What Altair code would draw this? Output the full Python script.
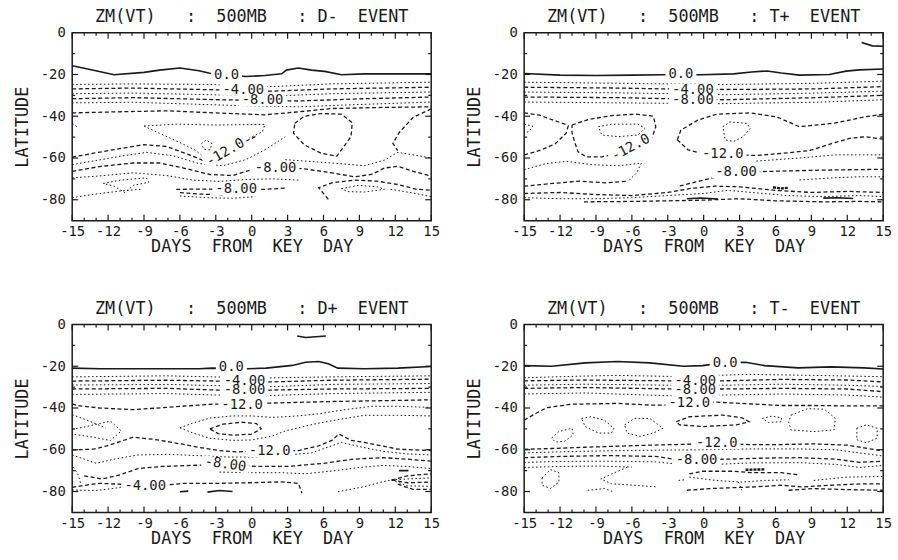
import altair as alt
import pandas as pd

# ---------------- layout / style constants ----------------
W, H = 363, 190
FONT = "DejaVu Sans Mono"
INK = "#1a1a1a"
NB = "\u00a0"

# ---------------- axis ticks / labels ----------------
DAY_MAJOR = [-15, -12, -9, -6, -3, 0, 3, 6, 9, 12, 15]
DAY_MINOR = [-14, -13, -11, -10, -8, -7, -5, -4, -2, -1, 1, 2, 4, 5, 7, 8, 10, 11, 13, 14]
LAT_LABELS = [0, -20, -40, -60, -80]
LAT_MAJOR = [-20, -40, -60, -80]
LAT_MINOR = [-10, -30, -50, -70]

EVENTS = ["D-", "T+", "D+", "T-"]
X_TITLE = "DAYS  FROM  KEY  DAY"
Y_TITLE = "LATITUDE"

# ---------------- contour data (day, latitude) ----------------
D_MINUS = [
    ("solid", [(-15, -15.8), (-13.7, -17.4), (-11.5, -20.1), (-9.0, -19.0), (-7.7, -17.9), (-6.0, -16.9), (-4.4, -18.2), (-3.5, -19.4), (-0.5, -21.0), (1.1, -20.5), (2.5, -19.7), (2.9, -17.9), (3.9, -16.9), (5.0, -17.9), (6.1, -18.5), (7.5, -20.1), (9.4, -19.7), (15, -19.7)]),
    ("dot", [(-15, -24.8), (-9.9, -24.5), (-3.3, -24.8), (1.7, -25.8), (6.7, -24.5), (15, -23.7)]),
    ("dash", [(-15, -26.9), (-9.9, -26.5), (-3.3, -27.3), (1.7, -28.0), (6.7, -26.9), (15, -26.1)]),
    ("dot", [(-15, -29.2), (-9.9, -28.9), (-3.3, -29.7), (1.1, -30.5), (6.7, -29.2), (15, -28.4)]),
    ("dash", [(-15, -31.6), (-9.9, -31.1), (-2.7, -32.1), (3.9, -32.7), (9.4, -31.6), (15, -30.8)]),
    ("dot", [(-15, -33.6), (-9.9, -33.3), (-1.6, -34.8), (3.9, -35.5), (9.4, -34.3), (15, -33.2)]),
    ("dash", [(-15, -38.4), (-11.3, -37.9), (-7.1, -37.4), (-3.0, -38.4), (1.1, -39.3), (3.9, -37.9), (6.7, -36.3), (10.8, -35.8), (15, -35.5)]),
    ("dash", [(3.6, -43.4), (4.4, -40.0), (5.8, -38.7), (7.5, -39.0), (8.4, -43.1), (8.3, -49.8), (7.6, -55.3), (7.1, -59.2), (5.8, -57.7), (4.4, -53.7), (3.5, -48.2), (3.6, -43.4)]),
    ("dash", [(15, -36.5), (13.5, -40.5), (12.3, -48.0), (11.8, -53.0), (12.2, -56.5)]),
    ("dot", [(-9.0, -44.7), (-6.3, -43.8), (-3.0, -44.2), (1.1, -43.9), (0.9, -47.4), (-0.2, -50.5)]),
    ("dot", [(-9.0, -44.7), (-7.7, -48.2), (-6.0, -52.6), (-4.8, -56.0), (-4.2, -58.5)]),
    ("dot", [(-4.2, -53.2), (-3.8, -51.3), (-3.3, -53.2), (-3.5, -56.1), (-4.0, -55.8), (-4.2, -53.2)]),
    ("dash", [(-15, -59.6), (-13.2, -57.7), (-11.3, -55.8), (-9.0, -53.6), (-7.1, -54.5), (-5.2, -58.5), (-3.8, -61.8), (-2.2, -57.3), (-0.6, -52.3), (0.4, -49.5)]),
    ("dot", [(-15, -63.2), (-12.6, -60.8), (-11.0, -59.2), (-8.8, -57.3), (-6.6, -58.9), (-4.4, -62.7), (-2.4, -63.7), (-0.5, -60.8), (1.1, -56.1), (2.2, -52.1), (2.8, -49.8)]),
    ("dot", [(2.8, -60.8), (6.7, -62.4), (9.4, -63.7), (11.1, -61.0), (12.2, -57.3), (13.5, -58.5), (15, -60.0)]),
    ("dash", [(-15, -66.4), (-12.6, -64.0), (-9.9, -62.4), (-7.7, -62.4), (-5.7, -64.8), (-3.5, -67.9), (-1.6, -68.4), (0, -65.6), (2.2, -64.3), (4.4, -65.2), (6.7, -67.1), (8.6, -69.0), (10.0, -67.9), (11.1, -64.8), (12.2, -64.0), (13.5, -66.4), (15, -68.7)]),
    ("dot", [(-15, -69.5), (-12.9, -68.7), (-9.9, -67.1), (-7.1, -68.4), (-4.9, -70.6), (-2.7, -71.2), (-0.5, -70.3), (1.7, -70.0), (3.9, -70.6)]),
    ("dash", [(-6.3, -75.0), (-3.8, -74.9), (-1.3, -75.0), (1.1, -75.0), (2.9, -74.4)]),
    ("dash", [(-6.0, -76.6), (-4.4, -77.3), (-2.4, -77.6)]),
    ("dot", [(-6.0, -78.2), (-3.8, -79.0), (-1.6, -79.3), (0.3, -78.5)]),
    ("dot", [(-12.4, -72.2), (-11.0, -70.6), (-8.8, -69.5), (-8.6, -71.6), (-9.9, -73.1), (-10.6, -76.6), (-11.5, -73.5), (-12.4, -72.2)]),
    ("dot", [(-15, -79.0), (-13.2, -77.4), (-11.0, -75.8), (-9.3, -75.0)]),
    ("dash", [(6.4, -79.8), (5.6, -74.2), (6.7, -71.9), (8.6, -70.6), (10.5, -71.1), (12.2, -72.7), (13.8, -75.0), (15, -75.4)]),
    ("dot", [(7.5, -74.7), (8.9, -73.1), (10.5, -73.8), (11.1, -75.0), (9.4, -76.3), (8.0, -76.1), (7.5, -74.7)]),
    ("dot", [(11.6, -75.0), (13.3, -76.6), (15, -78.5)]),
    ("dot", [(-15, -43.4), (-14.6, -45.0)]),
]
D_MINUS_LABELS = [("0.0", -2.1, -20.5, 0), ("-4.00", -0.7, -27.3, 0), ("-8.00", 0.9, -32.4, 0),
                  ("-12.0", -2.2, -57.3, 330), ("-8.00", 2.0, -64.6, 0), ("-8.00", -1.3, -75.0, 0)]

T_PLUS = [
    ("solid", [(-15, -19.5), (-12, -20.3), (-9, -20.5), (-6, -20.3), (-3.5, -20.1), (-0.2, -20.1), (2.5, -19.7), (4, -18.8), (5.3, -18.3), (6.5, -19.3), (8, -20.3), (10.5, -20.0), (11.9, -18.4), (13, -17.8), (15, -17.4)]),
    ("solid", [(13.2, -4.7), (14.1, -6.3), (15, -6.5)]),
    ("dot", [(-15, -23.7), (-7.1, -24.2), (-3.3, -24.5), (1.7, -24.8), (9.4, -24.2), (15, -23.2)]),
    ("dash", [(-15, -26.1), (-7.1, -26.5), (-3.3, -26.9), (1.7, -27.2), (9.4, -26.9), (15, -25.8)]),
    ("dot", [(-15, -28.4), (-7.1, -28.8), (-3.0, -29.2), (1.7, -29.7), (9.4, -28.9), (15, -28.0)]),
    ("dash", [(-15, -30.8), (-7.1, -31.1), (-3.0, -31.6), (1.7, -32.1), (9.4, -31.1), (15, -30.0)]),
    ("dot", [(-15, -33.2), (-7.1, -33.6), (1.1, -34.0), (9.4, -33.3), (15, -32.1)]),
    ("dash", [(-15, -38.4), (-13.7, -39.5), (-12.4, -42.2), (-11.3, -44.4)]),
    ("dash", [(-15, -58.5), (-13.7, -56.4), (-12.4, -53.2), (-11.5, -48.2), (-11.3, -44.4)]),
    ("dash", [(-11.0, -44.2), (-9.6, -41.5), (-7.7, -39.7), (-5.7, -39.0), (-4.2, -40.0), (-4.0, -45.0), (-4.3, -50.0), (-5.0, -52.5), (-6.1, -55.0), (-7.3, -57.8), (-8.5, -59.5), (-9.8, -59.5), (-10.5, -57.0), (-10.8, -52.0), (-11.0, -48.0), (-11.0, -44.2)]),
    ("dot", [(-8.8, -45.0), (-7.7, -43.8), (-5.5, -43.8), (-4.9, -45.8), (-5.5, -49.0), (-7.1, -49.8), (-8.5, -49.0), (-8.8, -45.0)]),
    ("dot", [(-15, -43.8), (-14.3, -44.7), (-14.6, -47.4), (-15, -47.9)]),
    ("dash", [(-2.2, -51.3), (-1.9, -46.6), (-0.5, -41.9), (1.1, -39.0), (3.9, -38.4), (6.1, -40.3), (8.0, -45.0), (10.8, -43.4), (13.5, -40.3), (15, -39.0)]),
    ("dash", [(-2.2, -51.3), (-1.3, -56.1), (0.0, -58.0), (1.6, -58.2), (4.4, -58.8), (6.7, -57.7), (8.9, -56.4), (10.8, -52.9), (12.2, -50.6), (13.5, -49.8), (15, -51.0)]),
    ("dot", [(1.6, -45.0), (2.2, -42.7), (3.6, -43.4), (3.9, -45.8), (3.3, -49.8), (2.5, -52.1), (1.8, -51.3), (1.6, -45.0)]),
    ("dot", [(-15, -65.6), (-13.2, -62.7), (-11.5, -61.6), (-9.3, -63.2), (-7.1, -63.7), (-5.2, -62.4), (-5.6, -67.1), (-6.3, -71.1)]),
    ("dash", [(-15, -73.5), (-12.6, -72.2), (-10.4, -71.1), (-8.2, -71.9), (-6.3, -71.1)]),
    ("dash", [(-2.0, -73.4), (-0.3, -71.0), (2.7, -66.8), (6.3, -66.3), (10, -65.8), (15, -65.4)]),
    ("dot", [(4.4, -61.5), (8.0, -60.0), (11, -58.5), (15, -58.5)]),
    ("dot", [(8.0, -70.5), (10.8, -69.5), (13.0, -69.0), (15, -69.0)]),
    ("dash", [(-15, -77.0), (-12, -76.5), (-9, -77.5), (-6, -78), (-3, -76.5), (-1, -74.5), (1, -73.5), (3, -73.8), (6, -75.5), (9, -76.5), (12, -76), (15, -76.5)]),
    ("dot", [(-15, -79), (-12, -79.5), (-9, -79.5), (-6, -79), (-3, -78), (0, -77), (2, -75.5), (4, -76.5), (7, -78), (10, -78.5), (13, -78), (15, -78.5)]),
    ("dash", [(-10, -81), (-6, -80.8), (-3, -80.5), (0, -80.2), (3, -79.5), (6, -80.5), (10, -81), (13, -80.8), (15, -81)]),
    ("solid", [(-1.4, -79.5), (-0.2, -79.2), (1.2, -79.6)]),
    ("solid", [(10.0, -79.2), (11.2, -79.0), (12.5, -79.4)]),
    ("heavy", [(5.8, -74), (6.4, -74.6), (7.1, -74.3)]),
]
T_PLUS_LABELS = [("0.0", -1.9, -19.8, 0), ("-4.00", -0.9, -27.3, 0), ("-8.00", -0.9, -32.2, 0),
                 ("-12.0", -6.1, -55.0, 332), ("-12.0", 1.6, -58.2, 0), ("-8.00", 2.7, -66.8, 0)]

D_PLUS = [
    ("solid", [(-15, -20.9), (-12.7, -21.2), (-8.5, -21.2), (-4.4, -21.2), (-3.3, -20.9), (-0.4, -21.2), (1.2, -20.9), (3.4, -19.6), (4.5, -18.1), (5.6, -17.7), (6.4, -18.8), (7.2, -20.9), (9.4, -21.2), (12.2, -20.9), (15, -20.1)]),
    ("solid", [(3.8, -5.5), (4.5, -6.2), (6.2, -5.5)]),
    ("dot", [(-15, -25.1), (-7.1, -24.6), (-3.3, -25.1), (1.2, -25.6), (6.7, -25.1), (15, -24.6)]),
    ("dash", [(-15, -27.1), (-7.1, -26.7), (-3.0, -27.1), (1.7, -27.5), (6.7, -26.7), (15, -26.2)]),
    ("dot", [(-15, -29.0), (-7.1, -28.7), (-3.0, -29.3), (1.7, -29.8), (6.7, -28.7), (15, -28.3)]),
    ("dash", [(-15, -30.9), (-7.1, -30.6), (-3.0, -31.4), (1.7, -31.4), (6.7, -30.9), (15, -30.6)]),
    ("dot", [(-15, -33.5), (-7.1, -33.1), (-3.0, -33.8), (1.1, -34.1), (6.7, -33.1), (15, -32.5)]),
    ("dash", [(-15, -38.0), (-14.6, -38.8), (-12.7, -40.0), (-9.9, -40.8), (-7.1, -39.7), (-4.9, -38.8), (-3.0, -38.1), (-0.8, -38.3), (1.2, -37.7), (6.7, -36.9), (15, -36.1)]),
    ("dot", [(-15, -43.2), (-13.9, -45.5), (-12.9, -47.9), (-12.2, -49.5)]),
    ("dot", [(-15, -50.3), (-13.5, -48.5), (-11.8, -46.3), (-10.9, -51.0), (-11.8, -55.6), (-13.2, -54.0), (-15, -52.5)]),
    ("dot", [(-6.0, -49.5), (-4.9, -47.2), (-3.5, -44.8), (-1.6, -43.8), (0, -43.8), (1.7, -44.5), (3.4, -44.0), (5.6, -42.8), (7.8, -40.8), (10.0, -39.2), (12.2, -39.2), (15, -39.7)]),
    ("dash", [(-3.5, -50.0), (-2.4, -47.7), (-0.8, -46.8), (0.4, -47.5), (0.8, -50.0), (0, -52.5), (-1.5, -53.0), (-2.8, -52.3), (-3.5, -50.0)]),
    ("dot", [(-6.0, -49.5), (-4.9, -52.0), (-3.5, -54.5), (-1.6, -55.5), (0, -55.3), (1.7, -53.5), (2.8, -51.0), (3.9, -49.5), (5.3, -47.6), (7.2, -45.6), (9.4, -43.5), (12.2, -43.5), (15, -43.8)]),
    ("dash", [(-15, -60.1), (-13.2, -59.7), (-12.1, -58.1), (-9.9, -54.0), (-8.2, -55.0), (-6.6, -56.5), (-4.4, -58.9), (-2.7, -60.4), (-1.3, -61.0), (1.5, -60.7), (3.9, -60.4), (5.6, -58.1), (6.7, -55.5), (7.3, -52.5), (8.3, -55.5), (9.4, -56.5), (10.8, -58.1), (12.2, -59.7), (15, -60.4)]),
    ("dot", [(-15, -62.5), (-13, -66.5), (-11.5, -64.5), (-9.5, -62.5), (-7, -62.2), (-4.5, -62.8), (-2, -63.5), (0, -63.5), (3, -62.5), (5, -61.5), (6.5, -58.5), (7.5, -56.5), (9, -58.5), (11, -60.8), (13, -62), (15, -62.5)]),
    ("dash", [(-14, -72.5), (-12.5, -74), (-11, -72), (-9.5, -69), (-7.5, -68), (-5, -67.5), (-2.2, -67), (0.5, -68), (3, -68), (6, -66.5), (8.5, -64.5), (11, -63.8), (13, -64.5), (15, -65.5)]),
    ("dot", [(-2.7, -70.7), (0, -71), (2.5, -71), (4.5, -71.5), (7, -70), (9, -68.5), (11, -67.5), (13, -68), (15, -69)]),
    ("dot", [(-14.9, -68.3), (-14.5, -72), (-14.3, -76)]),
    ("dash", [(-15, -78.0), (-13.8, -76.9), (-12.7, -76.1), (-8.9, -77.0), (-7.1, -76.9), (-5.7, -76.1), (-3.0, -76.1), (-0.2, -75.8), (2.5, -75.4), (3.9, -76.1), (4.2, -80.8)]),
    ("dot", [(-15, -79.3), (-13, -79.5), (-11.5, -78.5), (-10.5, -77.5)]),
    ("solid", [(-6.0, -80.1), (-5.3, -79.8)]),
    ("solid", [(-3.7, -80.3), (-2.7, -79.5), (-1.6, -80.0)]),
    ("dot", [(7.2, -80.1), (9.4, -77.7), (10.8, -75.5), (11.7, -74.5)]),
    ("dash", [(11.7, -74.5), (13, -72.5), (15, -71.5)]),
    ("dot", [(11.7, -74.5), (13, -74.0), (15, -73.5)]),
    ("dash", [(11.7, -74.5), (13, -75.8), (15, -75.5)]),
    ("dot", [(11.7, -74.5), (13, -77.3), (15, -77.5)]),
    ("dash", [(12.2, -76.5), (13.5, -79), (15, -79)]),
    ("solid", [(12.3, -70), (13.1, -70)]),
]
D_PLUS_LABELS = [("0.0", -1.7, -20.4, 0), ("-4.00", -0.6, -27.1, 0), ("-8.00", -0.6, -31.6, 0),
                 ("-12.0", -0.8, -38.4, 0), ("-12.0", 1.5, -60.6, 0), ("-8.00", -2.2, -67.0, 8),
                 ("-4.00", -8.9, -77.3, 0)]

T_MINUS = [
    ("solid", [(-15, -19.7), (-12.7, -20.0), (-9.9, -18.4), (-7.2, -17.7), (-4.5, -18.4), (-1.7, -20.0), (-0.1, -19.7), (1.6, -18.4), (3.5, -18.1), (5.1, -19.7), (7.9, -20.8), (10.6, -20.3), (13.4, -20.8), (15, -21.3)]),
    ("dot", [(-15, -25.5), (-9.9, -24.7), (-7.2, -24.4), (-1.7, -25.0), (1.0, -24.4), (3.8, -23.9), (9.2, -24.4), (15, -25.0)]),
    ("dash", [(-15, -27.0), (-9.9, -26.6), (-2.5, -27.0), (1.6, -27.0), (6.5, -26.3), (12.0, -26.6), (15, -27.5)]),
    ("dot", [(-15, -29.1), (-9.9, -28.6), (-2.5, -29.1), (1.6, -29.1), (6.5, -28.6), (12.0, -29.1), (15, -29.7)]),
    ("dash", [(-15, -30.6), (-9.9, -30.2), (-2.5, -30.9), (1.6, -30.9), (6.5, -30.6), (12.0, -30.9), (15, -32.2)]),
    ("dot", [(-15, -33.3), (-9.9, -32.8), (-3.1, -34.1), (1.6, -33.8), (6.5, -33.3), (12.0, -33.8), (15, -34.8)]),
    ("dash", [(-15, -45.8), (-14, -42.5), (-13.1, -39.8), (-11, -38.2), (-7.2, -37.8), (-4.5, -38.6), (-2.6, -38.6), (-1.2, -37.8), (1.0, -37.2), (3.8, -38.0), (6.5, -38.8), (9.2, -38.8), (12.0, -39.0), (15, -39.0)]),
    ("dot", [(-10.2, -45.0), (-9.4, -44.2), (-8.3, -45.8), (-7.5, -49.7), (-7.7, -52.0), (-8.8, -52.0), (-9.9, -48.9), (-10.2, -45.0)]),
    ("dot", [(-12.7, -54.4), (-12.1, -51.3), (-11.0, -49.7), (-10.9, -52.8), (-11.6, -55.9), (-12.4, -56.3), (-12.7, -54.4)]),
    ("dot", [(-6.6, -48.1), (-5.8, -45.0), (-4.5, -45.0), (-3.4, -49.7), (-4.2, -52.0), (-5.3, -53.6), (-6.4, -52.0), (-6.6, -48.1)]),
    ("dash", [(-2.3, -46.6), (-1.2, -44.2), (1.6, -43.4), (3.2, -44.7), (3.8, -46.6), (2.7, -48.1), (-0.1, -48.9), (-2.0, -48.1), (-2.3, -46.6)]),
    ("dot", [(4.9, -45.0), (5.7, -43.9), (6.5, -44.7), (6.5, -46.6), (5.4, -46.9), (4.9, -45.0)]),
    ("dot", [(7.3, -43.4), (8.7, -40.3), (10.1, -40.6), (11.0, -45.0), (10.9, -50.5), (9.2, -51.3), (7.3, -50.5), (7.1, -46.6), (7.3, -43.4)]),
    ("dot", [(12.8, -49.7), (13.6, -48.1), (14.5, -49.7), (14.5, -54.4), (13.6, -56.7), (12.8, -55.2), (12.8, -49.7)]),
    ("dash", [(-15, -59.8), (-12.7, -59.4), (-9.9, -58.8), (-7.2, -58.3), (-4.5, -57.8), (-2.3, -57.5), (1.1, -57.0), (3.8, -57.5), (6.5, -57.5), (9.2, -57.2), (12.0, -57.8), (13.4, -59.1), (15, -60.6)]),
    ("dot", [(-15, -61.5), (-12, -61), (-8, -60.5), (-4, -60.2), (0, -60.0), (4, -59.6), (8, -59.6), (11, -60), (13, -61.5), (15, -63)]),
    ("dash", [(-15, -63.8), (-12, -63.2), (-8, -62.8), (-4, -63.2), (-2.5, -64.5), (-0.6, -64.9), (2, -64.5), (5, -64), (8, -63.8), (11, -64.5), (13, -66), (15, -65.5)]),
    ("dot", [(-15, -66.1), (-12, -65.6), (-8, -65.5), (-4, -65.8), (-2, -67), (1, -67), (4, -66.3), (8, -66.2), (11, -67), (13, -68.5), (15, -67.5)]),
    ("dot", [(-15, -68.5), (-12, -68), (-9, -67.8), (-6, -68.3)]),
    ("dot", [(-13.5, -73.5), (-12.8, -69.5), (-12.1, -71), (-12.1, -75.5), (-12.8, -78.5), (-13.5, -77), (-13.5, -73.5)]),
    ("dot", [(-6.4, -68.4), (-7.7, -71.6), (-8.6, -74.0), (-7.7, -76.3), (-5.8, -77.0), (-3.9, -77.8)]),
    ("dot", [(-9.7, -79.4), (-8.3, -78.6), (-7.5, -80.2)]),
    ("dash", [(-1.2, -71.6), (-0.1, -70.3), (2.4, -70.3), (4, -71.0), (6.5, -71.0), (7.9, -72)]),
    ("heavy", [(3.5, -69.6), (5.1, -69.4)]),
    ("dot", [(-1.2, -73.1), (1.0, -74.7), (3.2, -75.5), (5.1, -74.7), (7.1, -74.4), (7.3, -75.5)]),
    ("dot", [(-2.1, -74.7), (-1.6, -74.4)]),
    ("dash", [(-1.4, -79.4), (0.5, -78.6), (2.7, -78.1), (4.3, -77.8), (6.5, -77.0), (8.2, -77.8), (10.6, -77.0), (13.4, -76.3), (15, -76.3)]),
    ("dash", [(7.1, -79.4), (9.2, -78.6), (12.0, -79.1), (15, -79.4)]),
    ("dot", [(2.9, -75.5), (3.2, -79.4)]),
    ("dot", [(9.2, -74.7), (10.6, -73.9), (12.0, -73.1), (15, -72.8)]),
]
T_MINUS_LABELS = [("0.0", 1.8, -18.6, 0), ("-4.00", -0.7, -27.0, 0), ("-8.00", -0.7, -31.4, 0),
                  ("-12.0", -1.2, -37.7, 0), ("-12.0", 1.1, -56.9, 0), ("-8.00", -0.6, -64.9, 0)]

PANELS = [(EVENTS[0], D_MINUS, D_MINUS_LABELS), (EVENTS[1], T_PLUS, T_PLUS_LABELS),
          (EVENTS[2], D_PLUS, D_PLUS_LABELS), (EVENTS[3], T_MINUS, T_MINUS_LABELS)]

STYLES = {
    "solid": dict(strokeWidth=1.6),
    "dash": dict(strokeWidth=1.3, strokeDash=[4, 2.6]),
    "dot": dict(strokeWidth=1.0, strokeDash=[1.6, 2.4]),
    "heavy": dict(strokeWidth=2.4, strokeDash=[3, 1]),
}

LABEL_SIZE = 14
CHAR_W = 0.602 * LABEL_SIZE   # monospace advance
GAP_H = 12.0                  # height of the white gap cut into lines under a label


def nb(s):
    return s.replace(" ", NB)


def title_for(event):
    return nb("ZM(VT)   :  500MB   : " + event + "  EVENT")


def gap_shape(text):
    w = len(text) * CHAR_W + 6
    h = GAP_H / w
    return f"M-1,-{h:.4f}L1,-{h:.4f}L1,{h:.4f}L-1,{h:.4f}Z", w * w


def panel(event, contours, labels):
    rows = []
    for cid, (style, pts) in enumerate(contours):
        for k, (d, l) in enumerate(pts):
            rows.append({"cid": cid, "k": k, "day": d, "lat": l, "style": style})
    df = pd.DataFrame(rows)

    xs = alt.Scale(domain=[-15, 15], nice=False, zero=False)
    ys = alt.Scale(domain=[-90, 0], nice=False, zero=False)
    common = dict(labelExpr="toString(datum.value)", labelFlush=False, ticks=False,
                  domain=False, grid=False, labelFont=FONT, labelFontSize=14, labelColor=INK,
                  titleFont=FONT, titleFontSize=17, titleFontWeight="normal", titleColor=INK)
    x_axis = alt.Axis(values=DAY_MAJOR, title=nb(X_TITLE), labelPadding=4, titlePadding=0, **common)
    y_axis = alt.Axis(values=LAT_LABELS, title=Y_TITLE, labelPadding=7, titlePadding=9, **common)

    X = lambda f: alt.X(f, scale=xs, axis=x_axis)
    Y = lambda f: alt.Y(f, scale=ys, axis=y_axis)

    layers = []
    for style, props in STYLES.items():
        sub = df[df["style"] == style]
        if sub.empty:
            continue
        layers.append(
            alt.Chart(sub).mark_line(color=INK, clip=True, strokeCap="butt", **props).encode(
                x=X("day:Q"), y=Y("lat:Q"), detail="cid:N", order="k:Q",
            )
        )

    def xticks(vals, length, top):
        y0 = 0 if top else H
        y1 = length if top else H - length
        return alt.Chart(pd.DataFrame({"day": vals})).mark_rule(color=INK, strokeWidth=1.2).encode(
            x=X("day:Q"), y=alt.value(y0), y2=alt.value(y1))

    def yticks(vals, length, right):
        x0 = W if right else 0
        x1 = W - length if right else length
        return alt.Chart(pd.DataFrame({"lat": vals})).mark_rule(color=INK, strokeWidth=1.2).encode(
            y=Y("lat:Q"), x=alt.value(x0), x2=alt.value(x1))

    layers += [xticks(DAY_MAJOR, 6, False), xticks(DAY_MINOR, 3, False),
               xticks(DAY_MAJOR, 6, True), xticks(DAY_MINOR, 3, True),
               yticks(LAT_MAJOR, 6, False), yticks(LAT_MINOR, 3, False),
               yticks(LAT_MAJOR, 6, True), yticks(LAT_MINOR, 3, True)]

    ldf = pd.DataFrame(labels, columns=["txt", "day", "lat", "ang"])
    shapes = [gap_shape(t) for t in ldf["txt"]]
    ldf["shp"] = [s for s, _ in shapes]
    ldf["sz"] = [z for _, z in shapes]
    base = alt.Chart(ldf).encode(
        x=X("day:Q"), y=Y("lat:Q"),
        angle=alt.Angle("ang:Q", scale=None),
    )
    # white gap behind each contour label
    layers.append(base.mark_point(filled=True, fill="white", opacity=1, strokeWidth=0).encode(
        shape=alt.Shape("shp:N", scale=None), size=alt.Size("sz:Q", scale=None)))
    layers.append(base.mark_text(font=FONT, fontSize=LABEL_SIZE, fill=INK, align="center",
                                 baseline="middle").encode(text="txt:N"))

    return alt.layer(*layers).properties(
        width=W, height=H,
        title=alt.TitleParams(title_for(event), font=FONT, fontSize=17, fontWeight="normal",
                              color=INK, offset=0),
    )


charts = [panel(*p) for p in PANELS]
chart = alt.concat(*charts, columns=2, spacing={"row": 105, "column": 94}, bounds="flush").properties(
    padding={"left": 12, "top": 4, "right": 5, "bottom": 5},
    background="white",
).configure_view(stroke=INK, strokeWidth=1.5)

chart.save("out.html", embed_options={"renderer": "svg", "actions": False})
